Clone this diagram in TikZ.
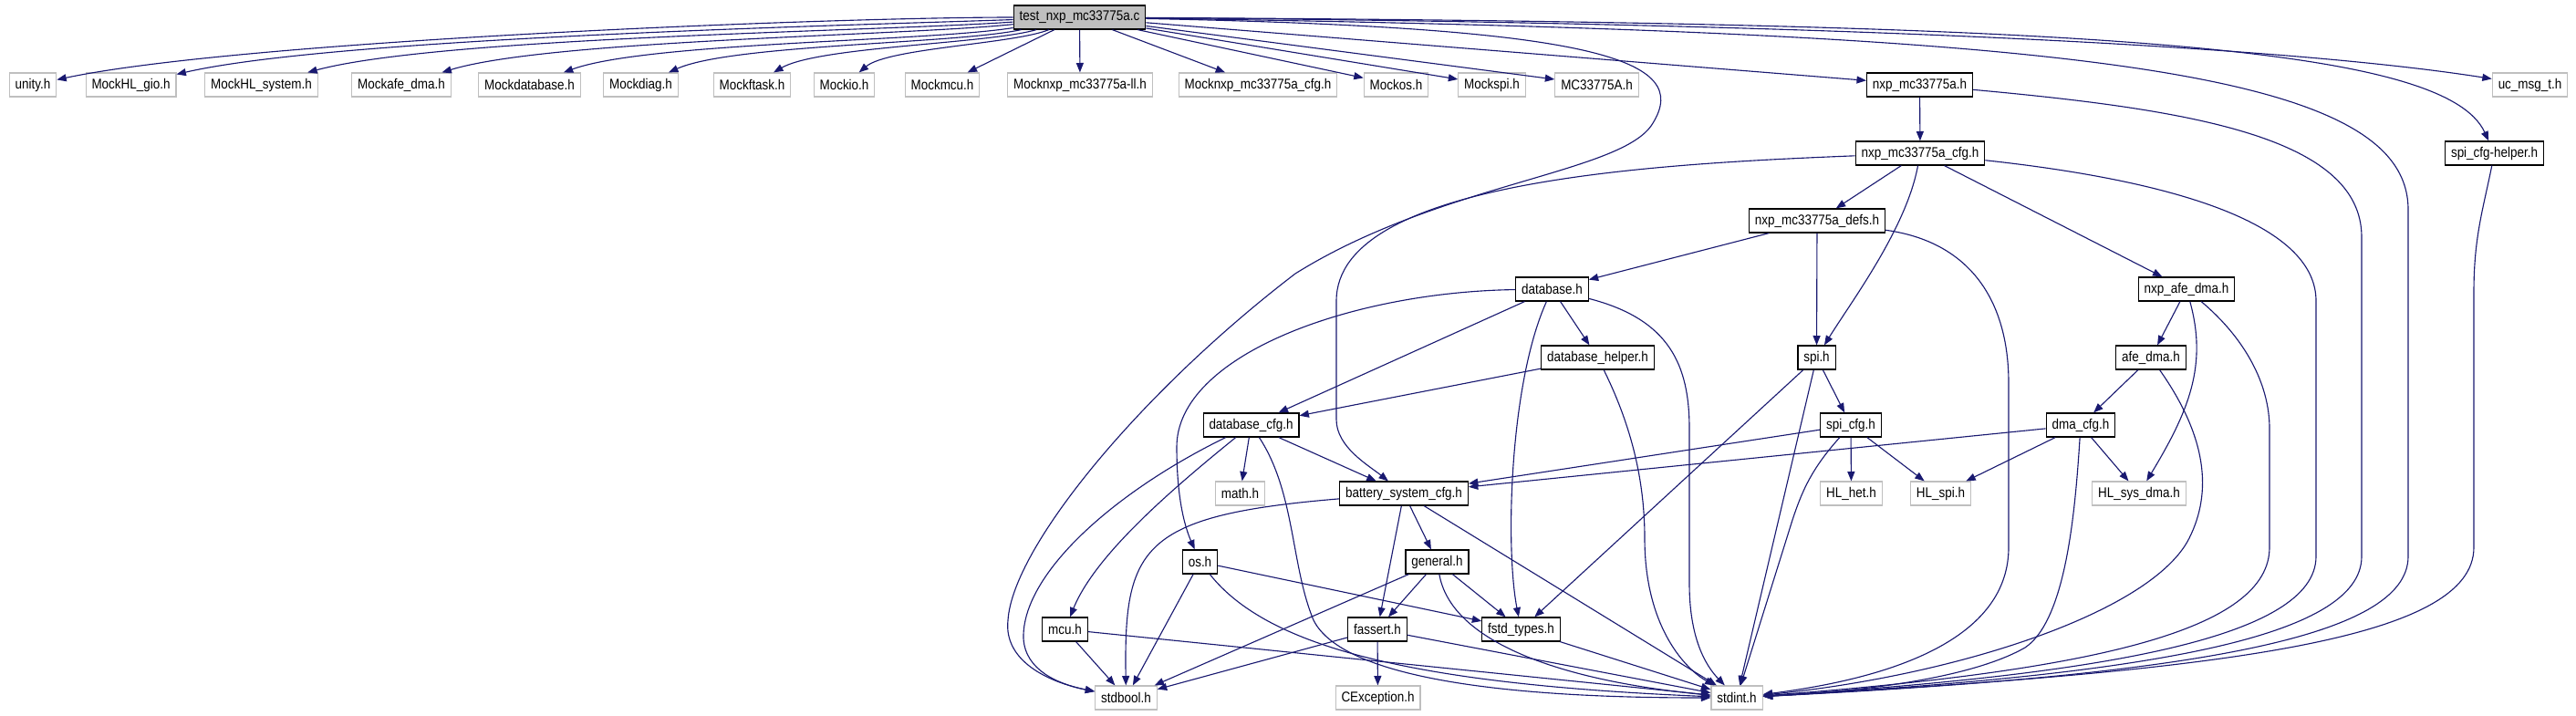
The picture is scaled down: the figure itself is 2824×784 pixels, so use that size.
\documentclass[tikz,border=0pt]{standalone}
\usepackage{fontspec,xcolor,tikz}
\usetikzlibrary{arrows.meta}
\setmainfont[FakeStretch=0.87]{Liberation Sans}
\definecolor{depblue}{HTML}{191970}
\definecolor{extgrey}{HTML}{BFBFBF}
\definecolor{rootgrey}{HTML}{BFBFBF}
\newcommand{\boxfont}{\fontsize{11}{13}\selectfont}
\tikzset{hdrbox/.style={draw=black,line width=0.3mm,fill=white,minimum height=6.5mm,
    inner xsep=1.6mm,inner ysep=0pt,font=\boxfont},
  extbox/.style={hdrbox,draw=extgrey},
  rootbox/.style={hdrbox,fill=rootgrey},
  dep/.style={depblue,line width=0.28mm,-{Triangle[length=2.6mm,width=2mm]}},
  fan/.style={dep,looseness=0.5}}

\begin{document}
\begin{tikzpicture}[x=0.25mm,y=0.25mm]
\useasboundingbox (0,0) rectangle (2824,-784);
\node[rootbox] (root) at (1183.5,-19) {test\_nxp\_mc33775a.c};
\node[extbox] (unity) at (36,-93) {unity.h};
\node[extbox] (mhlgio) at (143.5,-93) {MockHL\_gio.h};
\node[extbox] (mhlsys) at (286.5,-93) {MockHL\_system.h};
\node[extbox] (mafedma) at (440,-93) {Mockafe\_dma.h};
\node[extbox] (mdb) at (580.5,-93) {Mockdatabase.h};
\node[extbox] (mdiag) at (702.5,-93) {Mockdiag.h};
\node[extbox] (mftask) at (824.5,-93) {Mockftask.h};
\node[extbox] (mio) at (925.5,-93) {Mockio.h};
\node[extbox] (mmcu) at (1033,-93) {Mockmcu.h};
\node[extbox] (mnxpll) at (1184,-93) {Mocknxp\_mc33775a-ll.h};
\node[extbox] (mnxpcfg) at (1379,-93) {Mocknxp\_mc33775a\_cfg.h};
\node[extbox] (mos) at (1530.5,-93) {Mockos.h};
\node[extbox] (mspi) at (1635.5,-93) {Mockspi.h};
\node[extbox] (mcreg) at (1750.5,-93) {MC33775A.h};
\node[hdrbox] (nxp) at (2104.5,-93) {nxp\_mc33775a.h};
\node[extbox] (ucmsg) at (2773.5,-93) {uc\_msg\_t.h};
\node[hdrbox] (nxpcfg) at (2105,-168) {nxp\_mc33775a\_cfg.h};
\node[hdrbox] (spihelper) at (2734.5,-168) {spi\_cfg-helper.h};
\node[hdrbox] (nxpdefs) at (1992,-242) {nxp\_mc33775a\_defs.h};
\node[hdrbox] (db) at (1701.5,-317) {database.h};
\node[hdrbox] (afenxp) at (2397,-317) {nxp\_afe\_dma.h};
\node[hdrbox] (dbhelper) at (1751.5,-392) {database\_helper.h};
\node[hdrbox] (spi) at (1991.5,-392) {spi.h};
\node[hdrbox] (afe) at (2358,-392) {afe\_dma.h};
\node[hdrbox] (dbcfg) at (1371.5,-466) {database\_cfg.h};
\node[hdrbox] (spicfg) at (2029,-466) {spi\_cfg.h};
\node[hdrbox] (dmacfg) at (2281,-466) {dma\_cfg.h};
\node[extbox] (math) at (1359.5,-541) {math.h};
\node[hdrbox] (bscfg) at (1539,-541) {battery\_system\_cfg.h};
\node[extbox] (hlhet) at (2029.5,-541) {HL\_het.h};
\node[extbox] (hlspi) at (2127.5,-541) {HL\_spi.h};
\node[extbox] (hldma) at (2345,-541) {HL\_sys\_dma.h};
\node[hdrbox] (os) at (1315.5,-616) {os.h};
\node[hdrbox] (general) at (1575.5,-616) {general.h};
\node[hdrbox] (mcu) at (1167.5,-690) {mcu.h};
\node[hdrbox] (fassert) at (1510,-690) {fassert.h};
\node[hdrbox] (fstd) at (1667.5,-690) {fstd\_types.h};
\node[extbox] (stdbool) at (1234.5,-765) {stdbool.h};
\node[extbox] (cexc) at (1510.5,-765) {CException.h};
\node[extbox] (stdint) at (1904,-765) {stdint.h};
\draw[fan] (root) to[out=180,in=12] (unity);
\draw[fan] (root) to[out=182,in=13] (mhlgio);
\draw[fan] (root) to[out=184,in=15] (mhlsys);
\draw[fan] (root) to[out=186,in=17] (mafedma);
\draw[fan] (root) to[out=189,in=20] (mdb);
\draw[fan] (root) to[out=192,in=24] (mdiag);
\draw[fan] (root) to[out=196,in=30] (mftask);
\draw[fan] (root) to[out=202,in=40] (mio);
\draw[dep] (root) -- (mmcu);
\draw[dep] (root) -- (mnxpll);
\draw[dep] (root) -- (mnxpcfg);
\draw[dep] (root) -- (mos);
\draw[dep] (root) -- (mspi);
\draw[dep] (root) -- (mcreg);
\draw[dep] (root) -- (nxp);
\draw[dep] (root) .. controls (2000,-25) and (2500,-50) .. (ucmsg);
\draw[dep] (root) .. controls (2300,-25) and (2680,-50) .. (spihelper);
\draw[dep] (root) .. controls (2300,-35) and (2640,-80) .. (2640,-230) -- (2640,-610) .. controls (2640,-700) and (2400,-740) .. (stdint);
\draw[dep] (root) .. controls (1750,-30) and (1855,-65) .. (1812,-135) .. controls (1780,-190) and (1580,-200) .. (1420,-300) .. controls (1250,-430) and (1110,-600) .. (1105,-680) .. controls (1100,-725) and (1150,-748) .. (stdbool);
\draw[dep] (nxp) -- (nxpcfg);
\draw[dep] (nxp) .. controls (2400,-120) and (2589,-150) .. (2589,-260) -- (2589,-610) .. controls (2589,-700) and (2350,-740) .. (stdint);
\draw[dep] (spihelper) .. controls (2722,-230) and (2712,-260) .. (2712,-320) -- (2712,-600) .. controls (2712,-700) and (2450,-735) .. (stdint);
\draw[dep] (nxpcfg) -- (nxpdefs);
\draw[dep] (nxpcfg) .. controls (2090,-250) and (2030,-330) .. (spi);
\draw[dep] (nxpcfg) -- (afenxp);
\draw[dep] (nxpcfg) .. controls (1800,-180) and (1465,-200) .. (1465,-330) -- (1465,-460) .. controls (1465,-490) and (1500,-510) .. (bscfg);
\draw[dep] (nxpcfg) .. controls (2400,-200) and (2539,-250) .. (2539,-330) -- (2539,-610) .. controls (2539,-700) and (2300,-740) .. (stdint);
\draw[dep] (nxpdefs) -- (db);
\draw[dep] (nxpdefs) -- (spi);
\draw[dep] (nxpdefs) .. controls (2160,-265) and (2202,-330) .. (2202,-420) -- (2202,-600) .. controls (2202,-690) and (2100,-740) .. (stdint);
\draw[dep] (db) -- (dbcfg);
\draw[dep] (db) -- (dbhelper);
\draw[dep] (db) .. controls (1480,-320) and (1290,-390) .. (1290,-490) .. controls (1290,-550) and (1300,-580) .. (os);
\draw[dep] (db) .. controls (1655,-420) and (1650,-600) .. (fstd);
\draw[dep] (db) .. controls (1830,-350) and (1852,-400) .. (1852,-470) -- (1852,-640) .. controls (1852,-700) and (1870,-730) .. (stdint);
\draw[dep] (afenxp) -- (afe);
\draw[dep] (afenxp) .. controls (2420,-400) and (2400,-450) .. (hldma);
\draw[dep] (afenxp) .. controls (2460,-370) and (2488,-420) .. (2488,-470) -- (2488,-600) .. controls (2488,-690) and (2300,-735) .. (stdint);
\draw[dep] (dbhelper) -- (dbcfg);
\draw[dep] (dbhelper) .. controls (1785,-460) and (1803,-520) .. (1803,-590) .. controls (1803,-690) and (1850,-735) .. (stdint);
\draw[dep] (spi) -- (spicfg);
\draw[dep] (spi) -- (fstd);
\draw[dep] (spi) -- (stdint);
\draw[dep] (afe) -- (dmacfg);
\draw[dep] (afe) .. controls (2420,-480) and (2425,-540) .. (2400,-590) .. controls (2360,-670) and (2150,-740) .. (stdint);
\draw[dep] (dbcfg) .. controls (1220,-540) and (1120,-630) .. (1122,-700) .. controls (1124,-735) and (1160,-750) .. (stdbool);
\draw[dep] (dbcfg) .. controls (1280,-540) and (1200,-610) .. (mcu);
\draw[dep] (dbcfg) -- (math);
\draw[dep] (dbcfg) -- (bscfg);
\draw[dep] (dbcfg) .. controls (1420,-540) and (1415,-620) .. (1440,-680) .. controls (1480,-760) and (1750,-765) .. (stdint);
\draw[dep] (spicfg) -- (bscfg);
\draw[dep] (spicfg) -- (hlhet);
\draw[dep] (spicfg) -- (hlspi);
\draw[dep] (spicfg) .. controls (1985,-515) and (1975,-540) .. (1965,-570) -- (stdint);
\draw[dep] (dmacfg) -- (bscfg);
\draw[dep] (dmacfg) -- (hlspi);
\draw[dep] (dmacfg) -- (hldma);
\draw[dep] (dmacfg) .. controls (2275,-560) and (2265,-680) .. (2220,-710) .. controls (2150,-750) and (2000,-760) .. (stdint);
\draw[dep] (bscfg) .. controls (1250,-565) and (1232,-600) .. (stdbool);
\draw[dep] (bscfg) -- (general);
\draw[dep] (bscfg) -- (fassert);
\draw[dep] (bscfg) -- (stdint);
\draw[dep] (os) -- (stdbool);
\draw[dep] (os) -- (fstd);
\draw[dep] (os) .. controls (1390,-710) and (1550,-750) .. (stdint);
\draw[dep] (general) -- (stdbool);
\draw[dep] (general) -- (fassert);
\draw[dep] (general) -- (fstd);
\draw[dep] (general) .. controls (1590,-700) and (1700,-745) .. (stdint);
\draw[dep] (mcu) -- (stdbool);
\draw[dep] (mcu) -- (stdint);
\draw[dep] (fassert) -- (stdbool);
\draw[dep] (fassert) -- (cexc);
\draw[dep] (fassert) -- (stdint);
\draw[dep] (fstd) -- (stdint);
\end{tikzpicture}
\end{document}
